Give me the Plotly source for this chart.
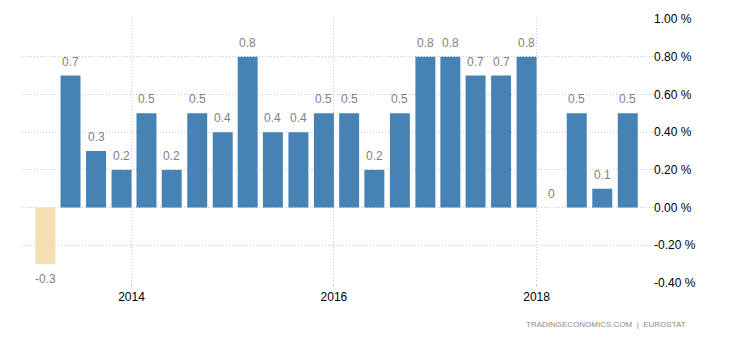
import pandas as pd
import plotly.graph_objects as go

quarters = ["2013Q1", "2013Q2", "2013Q3", "2013Q4",
            "2014Q1", "2014Q2", "2014Q3", "2014Q4",
            "2015Q1", "2015Q2", "2015Q3", "2015Q4",
            "2016Q1", "2016Q2", "2016Q3", "2016Q4",
            "2017Q1", "2017Q2", "2017Q3", "2017Q4",
            "2018Q1", "2018Q2", "2018Q3", "2018Q4"]
values = [-0.3, 0.7, 0.3, 0.2,
          0.5, 0.2, 0.5, 0.4,
          0.8, 0.4, 0.4, 0.5,
          0.5, 0.2, 0.5, 0.8,
          0.8, 0.7, 0.7, 0.8,
          0.0, 0.5, 0.1, 0.5]
year_ticks = ["2014-01-01", "2016-01-01", "2018-01-01"]
year_labels = ["2014", "2016", "2018"]
y_ticks = [-0.4, -0.2, 0.0, 0.2, 0.4, 0.6, 0.8, 1.0]
y_labels = ["-0.40 %", "-0.20 %", "0.00 %", "0.20 %", "0.40 %", "0.60 %", "0.80 %", "1.00 %"]

dates = [pd.Period(q).end_time.normalize() - pd.Timedelta(days=35) for q in quarters]
colors = ["#F5DEB3" if v < 0 else "#4682B4" for v in values]
FONT = "Liberation Sans, Arial, sans-serif"
DOT = "1px,2px"

fig = go.Figure()
fig.add_trace(go.Bar(x=dates, y=values, marker=dict(color=colors, line=dict(width=0)),
                     hoverinfo="x+y"))

for d, v in zip(dates, values):
    lbl = f"{v:g}"
    fig.add_annotation(x=d, y=v, text=lbl, showarrow=False,
                       yanchor="top" if v < 0 else "bottom",
                       yshift=-6 if v < 0 else 5,
                       font=dict(family=FONT, size=12, color="#7f7f7f"))

fig.add_annotation(xref="paper", yref="paper", x=0.9255, y=-0.159, xanchor="center",
                   yanchor="middle",
                   text="TRADINGECONOMICS.COM  |  EUROSTAT", showarrow=False,
                   font=dict(family=FONT, size=8, color="#8a8a8a"))

fig.update_layout(
    width=730, height=340,
    margin=dict(l=22, r=77, t=19, b=57),
    plot_bgcolor="white", paper_bgcolor="white",
    bargap=0.2, showlegend=False,
    font=dict(family=FONT, size=12, color="#000"),
    xaxis=dict(type="date", range=["2012-12-02", "2019-02-25"],
               tickvals=year_ticks, ticktext=year_labels,
               showgrid=True, gridcolor="#c8c8c8", griddash=DOT, gridwidth=1,
               ticks="outside", ticklen=3, tickcolor="#c8c8c8",
               showline=False, zeroline=False,
               tickfont=dict(family=FONT, size=12, color="#000")),
    yaxis=dict(side="right", range=[-0.4, 1.0], tickvals=y_ticks, ticktext=y_labels,
               showgrid=True, gridcolor="#c8c8c8", griddash=DOT, gridwidth=1,
               zeroline=False, showline=False, ticks="",
               tickfont=dict(family=FONT, size=12, color="#000")),
)

fig.write_html("out.html")
